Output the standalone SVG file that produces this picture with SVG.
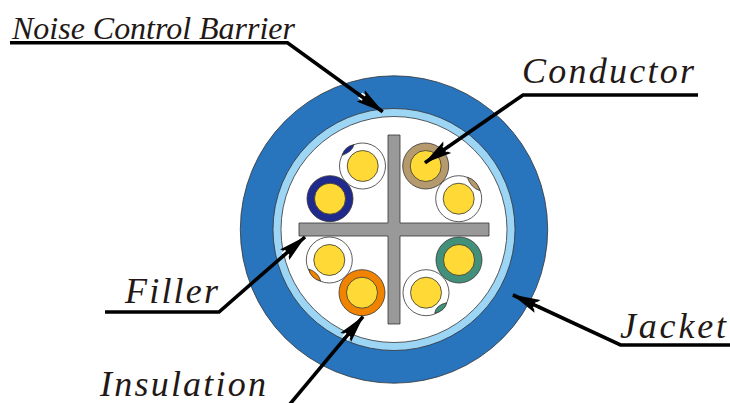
<svg xmlns="http://www.w3.org/2000/svg" width="730" height="403" viewBox="0 0 730 403">
<style>
.s{stroke:#333;stroke-width:.8}
.y{fill:#ffd935;stroke:#333;stroke-width:.8}
.w{fill:#fff;stroke:#333;stroke-width:.8}
.c{fill:none;stroke:#000;stroke-width:3.6;stroke-linejoin:miter;marker-end:url(#a)}
text{font-family:"Liberation Serif","Times New Roman",serif;font-style:italic;fill:#231815}
</style>
<defs>
<marker id="a" markerUnits="userSpaceOnUse" viewBox="0 0 30 16" refX="29" refY="8" markerWidth="30" markerHeight="16" orient="auto" overflow="visible">
<path d="M30 8L2 1L6.5 8L2 15Z" fill="#000"/>
<path d="M1 4.5h4.5v7h-4.5z" fill="#fff"/>
<path d="M0 6.2h7v3.6h-7z" fill="#000"/>
</marker>
</defs>
<rect width="730" height="403" fill="#fff"/>
<g id="jacket"><circle cx="394" cy="229.5" r="153.7" fill="#2874bd" class="s"/></g>
<g id="barrier"><circle cx="394" cy="229.5" r="121" fill="#9dd5f5" class="s"/></g>
<g id="core"><circle cx="394" cy="229.5" r="113" class="w"/></g>
<g id="filler"><path d="M388 135h12v88h89v13h-89v88h-12v-88h-89v-13h89z" fill="#999" class="s"/></g>
<g id="pair-navy-white">
<circle cx="362.5" cy="166" r="23" class="w"/>
<path d="M342 155.3Q345 146 354 144.7Q352 152 342 155.3Z" fill="#1f2a8c" class="s"/>
<circle cx="362.7" cy="166" r="15.5" class="y"/>
</g>
<g id="pair-navy">
<circle cx="330" cy="198.7" r="23" fill="#1f2a8c" class="s"/>
<circle cx="330" cy="198.7" r="15.5" class="y"/>
</g>
<g id="pair-tan">
<circle cx="425.7" cy="166" r="23" fill="#b59a6e" class="s"/>
<circle cx="425.7" cy="166" r="15.5" class="y"/>
</g>
<g id="pair-tan-white">
<circle cx="458.7" cy="198.7" r="23" class="w"/>
<path d="M467.3 177.3Q477 180 480 190.7Q471 188 467.3 177.3Z" fill="#b59a6e" class="s"/>
<circle cx="458.7" cy="198.7" r="15.5" class="y"/>
</g>
<g id="pair-orange-white">
<circle cx="329.3" cy="260" r="23" class="w"/>
<path d="M308.7 269Q318 272 320.7 281Q311 279 308.7 269Z" fill="#f08300" class="s"/>
<circle cx="329.3" cy="260" r="15.5" class="y"/>
</g>
<g id="pair-orange">
<circle cx="362" cy="292.7" r="23" fill="#f08300" class="s"/>
<circle cx="362" cy="292.7" r="15.5" class="y"/>
</g>
<g id="pair-green-white">
<circle cx="426" cy="292.7" r="23" class="w"/>
<path d="M434.7 313.3Q436 305 446.7 302.7Q445 311 434.7 313.3Z" fill="#43907a" class="s"/>
<circle cx="426" cy="292.7" r="15.5" class="y"/>
</g>
<g id="pair-green">
<circle cx="459" cy="260" r="23" fill="#43907a" class="s"/>
<circle cx="459" cy="260" r="15.5" class="y"/>
</g>
<g id="connectors">
<path class="c" d="M10 42.7H287.5L382.7 111.7"/>
<path class="c" d="M698 95H523L425 162.7"/>
<path class="c" d="M105 312H219L305 237"/>
<path class="c" d="M285 410L363 316.7"/>
<path class="c" d="M730 345H620.5L513 295"/>
</g>
<g id="label-noise"><text x="12" y="39" font-size="32" textLength="283" lengthAdjust="spacing">Noise Control Barrier</text></g>
<g id="label-conductor"><text x="522" y="83" font-size="36" textLength="172" lengthAdjust="spacing">Conductor</text></g>
<g id="label-filler"><text x="125" y="303" font-size="36" textLength="93" lengthAdjust="spacing">Filler</text></g>
<g id="label-insulation"><text x="100" y="396" font-size="36" textLength="166" lengthAdjust="spacing">Insulation</text></g>
<g id="label-jacket"><text x="620" y="338" font-size="36" textLength="106" lengthAdjust="spacing">Jacket</text></g>
</svg>
